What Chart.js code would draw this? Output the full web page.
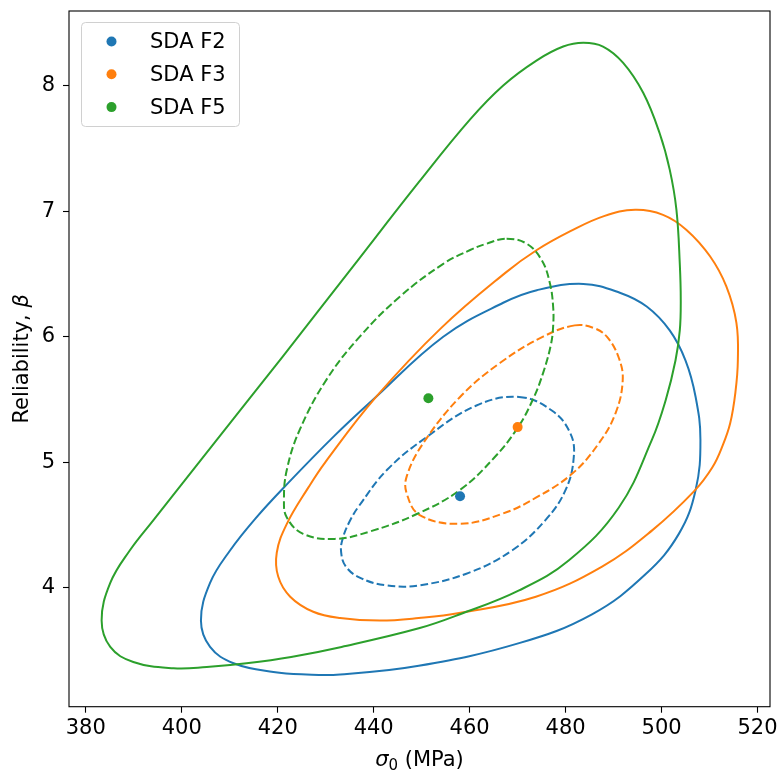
<!DOCTYPE html>
<html>
<head>
<meta charset="utf-8">
<script src="https://cdn.jsdelivr.net/npm/chart.js@4.4.1/dist/chart.umd.min.js"></script>
<style>
  html, body { margin: 0; padding: 0; background: #fff; }
  #wrap { width: 778px; height: 773px; }
</style>
</head>
<body>
<div id="wrap"><canvas id="chart" width="778" height="773"></canvas></div>
<script>
const seriesLabels = ["SDA F2", "SDA F3", "SDA F5"];
const seriesColors = ["#1f77b4", "#ff7f0e", "#2ca02c"];
const pointX = [458.0, 470.0, 451.4];
const pointY = [4.73, 5.28, 5.51];

// contours
const f2OuterX = [483.7, 491.3, 496.9, 501.7, 505.0, 507.1, 508.1, 507.1, 503.6, 496.7, 485.5, 470.3, 449.4, 433.0, 426.0, 419.1, 410.8, 405.9, 404.0, 405.9, 410.1, 415.3, 421.8, 431.8, 439.9, 454.5, 467.0, 474.0];
const f2OuterY = [6.42, 6.35, 6.24, 6.05, 5.81, 5.52, 5.18, 4.78, 4.43, 4.11, 3.79, 3.56, 3.38, 3.31, 3.31, 3.33, 3.40, 3.53, 3.74, 4.04, 4.30, 4.55, 4.82, 5.21, 5.50, 6.00, 6.27, 6.37];
const f2InnerX = [470.3, 477.2, 481.0, 481.7, 480.0, 475.8, 468.9, 459.8, 449.5, 442.6, 437.2, 434.2, 433.2, 433.6, 435.0, 436.9, 442.8, 451.0, 461.3];
const f2InnerY = [5.52, 5.41, 5.23, 5.04, 4.78, 4.54, 4.30, 4.12, 4.02, 4.02, 4.08, 4.17, 4.29, 4.40, 4.53, 4.65, 4.94, 5.20, 5.45];
const f3OuterX = [494.5, 500.3, 505.2, 510.1, 513.5, 515.6, 515.9, 515.4, 514.3, 512.7, 510.6, 506.8, 498.1, 487.6, 473.8, 457.8, 449.4, 441.3, 433.0, 427.4, 422.6, 420.1, 419.8, 421.9, 426.4, 429.9, 440.5, 454.1, 467.5, 474.0, 481.0, 488.0];
const f3OuterY = [7.01, 6.97, 6.85, 6.64, 6.40, 6.11, 5.81, 5.56, 5.31, 5.13, 4.96, 4.77, 4.46, 4.17, 3.93, 3.80, 3.76, 3.74, 3.76, 3.81, 3.93, 4.09, 4.28, 4.51, 4.80, 5.00, 5.52, 6.07, 6.51, 6.69, 6.84, 6.96];
const f3InnerX = [481.9, 485.8, 488.6, 491.1, 491.9, 490.4, 486.9, 481.4, 473.9, 466.8, 457.9, 449.6, 446.9, 446.9, 450.3, 458.0, 466.3, 475.3];
const f3InnerY = [6.09, 6.07, 6.00, 5.83, 5.65, 5.39, 5.15, 4.91, 4.72, 4.59, 4.51, 4.58, 4.75, 4.89, 5.15, 5.52, 5.79, 6.00];
const f5OuterX = [483.7, 487.8, 492.0, 496.2, 499.6, 501.7, 503.1, 503.8, 504.0, 503.8, 502.9, 500.9, 498.0, 491.1, 480.7, 470.3, 458.0, 449.6, 433.3, 422.8, 413.5, 405.2, 398.3, 389.9, 385.1, 383.3, 385.1, 389.2, 394.1, 403.8, 421.0, 435.1, 449.4, 460.1, 467.0, 474.0, 479.5];
const f5OuterY = [8.34, 8.31, 8.18, 7.94, 7.62, 7.33, 7.01, 6.58, 6.29, 6.05, 5.81, 5.50, 5.18, 4.64, 4.22, 3.98, 3.79, 3.68, 3.53, 3.45, 3.40, 3.37, 3.36, 3.41, 3.53, 3.74, 4.04, 4.30, 4.54, 5.01, 5.84, 6.53, 7.23, 7.73, 8.00, 8.20, 8.31];
const f5InnerX = [467.7, 471.9, 475.0, 476.7, 477.4, 477.4, 476.9, 475.3, 473.3, 470.1, 465.2, 458.0, 449.1, 439.3, 431.9, 425.3, 421.9, 421.3, 421.9, 424.6, 430.2, 437.1, 445.5, 454.5, 460.1, 463.5];
const f5InnerY = [6.78, 6.74, 6.61, 6.43, 6.24, 6.08, 5.93, 5.71, 5.51, 5.28, 5.04, 4.78, 4.59, 4.45, 4.39, 4.43, 4.56, 4.70, 4.94, 5.26, 5.66, 6.00, 6.32, 6.58, 6.69, 6.74];

const xTicks = [380, 400, 420, 440, 460, 480, 500, 520];
const yTicks = [4, 5, 6, 7, 8];

const FONT = "'DejaVu Sans', sans-serif";
const DASH = [7.7, 3.3];

// wrap the ring so every drawn piece has neighbours, hide the two spare ends
function ring(xs, ys) {
  const pts = xs.map((x, i) => ({ x, y: ys[i] }));
  const n = pts.length;
  return [pts[n - 1]].concat(pts, [pts[0], pts[1]]);
}

function contour(xs, ys, color, dashed, order) {
  const data = ring(xs, ys);
  return {
    data,
    order,
    showLine: true,
    borderColor: color,
    borderWidth: 2,
    borderDash: dashed ? DASH : [],
    pointRadius: 0,
    pointHoverRadius: 0,
    tension: 0.4,
    fill: false,
    segment: {
      borderColor: c => (c.p0DataIndex === 0 || c.p1DataIndex === data.length - 1) ? "rgba(0,0,0,0)" : undefined
    }
  };
}

const datasets = seriesLabels.map((label, i) => ({
  label,
  order: 0,
  data: [{ x: pointX[i], y: pointY[i] }],
  backgroundColor: seriesColors[i],
  borderWidth: 0,
  pointRadius: 5,
  pointHoverRadius: 5
}));

// later series sit on top, as in the source figure
datasets.push(
  contour(f2OuterX, f2OuterY, seriesColors[0], false, 6),
  contour(f2InnerX, f2InnerY, seriesColors[0], true, 5),
  contour(f3OuterX, f3OuterY, seriesColors[1], false, 4),
  contour(f3InnerX, f3InnerY, seriesColors[1], true, 3),
  contour(f5OuterX, f5OuterY, seriesColors[2], false, 2),
  contour(f5InnerX, f5InnerY, seriesColors[2], true, 1)
);

const framePlugin = {
  id: "frame",
  afterDraw(chart) {
    const { ctx, chartArea: a } = chart;
    ctx.save();
    ctx.strokeStyle = "#000";
    ctx.lineWidth = 1.1;
    ctx.strokeRect(a.left, a.top, a.right - a.left, a.bottom - a.top);
    ctx.restore();
  }
};

const legendPlugin = {
  id: "boxLegend",
  afterDraw(chart) {
    const ctx = chart.ctx;
    const x = 81, y = 22, w = 158, h = 104, r = 4;
    ctx.save();
    ctx.beginPath();
    ctx.roundRect(x + 0.5, y + 0.5, w, h, r);
    ctx.fillStyle = "rgba(255,255,255,0.8)";
    ctx.fill();
    ctx.strokeStyle = "#d0d0d0";
    ctx.lineWidth = 1;
    ctx.stroke();
    ctx.font = "21px " + FONT;
    ctx.textBaseline = "middle";
    seriesLabels.forEach((label, i) => {
      const cy = 41.5 + i * 32.8;
      ctx.beginPath();
      ctx.arc(111.5, cy, 5, 0, Math.PI * 2);
      ctx.fillStyle = seriesColors[i];
      ctx.fill();
      ctx.fillStyle = "#000";
      ctx.fillText(label, 150, cy + 1);
    });
    ctx.restore();
  }
};

const titlesPlugin = {
  id: "axisTitles",
  afterDraw(chart) {
    const ctx = chart.ctx;
    const a = chart.chartArea;
    ctx.save();
    ctx.fillStyle = "#000";
    ctx.textBaseline = "alphabetic";
    // x title: sigma with subscript 0
    const parts = [
      { t: "\u03c3", f: "oblique 21px " + FONT, dy: 0 },
      { t: "0", f: "15px " + FONT, dy: 3.5 },
      { t: " (MPa)", f: "21px " + FONT, dy: 0 }
    ];
    let total = 0;
    parts.forEach(p => { ctx.font = p.f; p.w = ctx.measureText(p.t).width; total += p.w; });
    let px = (a.left + a.right) / 2 - total / 2;
    parts.forEach(p => { ctx.font = p.f; ctx.fillText(p.t, px, 766 + p.dy); px += p.w; });
    // y title, rotated
    ctx.translate(28, (a.top + a.bottom) / 2);
    ctx.rotate(-Math.PI / 2);
    const yp = [
      { t: "Reliability, ", f: "21px " + FONT },
      { t: "\u03b2", f: "oblique 21px " + FONT }
    ];
    total = 0;
    yp.forEach(p => { ctx.font = p.f; p.w = ctx.measureText(p.t).width; total += p.w; });
    px = -total / 2;
    yp.forEach(p => { ctx.font = p.f; ctx.fillText(p.t, px, 0); px += p.w; });
    ctx.restore();
  }
};

const axisBase = {
  type: "linear",
  grid: { drawOnChartArea: false, drawTicks: true, tickLength: 6, tickColor: "#000", tickWidth: 1.1 },
  border: { display: false },
  ticks: { color: "#000", font: { family: FONT, size: 21 }, maxRotation: 0 }
};

new Chart(document.getElementById("chart").getContext("2d"), {
  type: "scatter",
  data: { datasets },
  plugins: [framePlugin, legendPlugin, titlesPlugin],
  options: {
    responsive: false,
    animation: false,
    layout: { padding: { left: 0, top: 11, right: 8, bottom: 0 } },
    plugins: {
      legend: { display: false },
      tooltip: { enabled: false }
    },
    scales: {
      x: Object.assign({}, axisBase, {
        min: 376.5,
        max: 522.6,
        ticks: Object.assign({}, axisBase.ticks, { padding: 3 }),
        afterBuildTicks: s => { s.ticks = xTicks.map(v => ({ value: v })); },
        afterFit: s => { s.height = 66.3; s.paddingLeft = 0; s.paddingRight = 0; }
      }),
      y: Object.assign({}, axisBase, {
        min: 3.054,
        max: 8.593,
        ticks: Object.assign({}, axisBase.ticks, { padding: 8 }),
        afterBuildTicks: s => { s.ticks = yTicks.map(v => ({ value: v })); },
        afterFit: s => { s.width = 69; s.paddingTop = 0; s.paddingBottom = 0; }
      })
    }
  }
});
</script>
</body>
</html>
